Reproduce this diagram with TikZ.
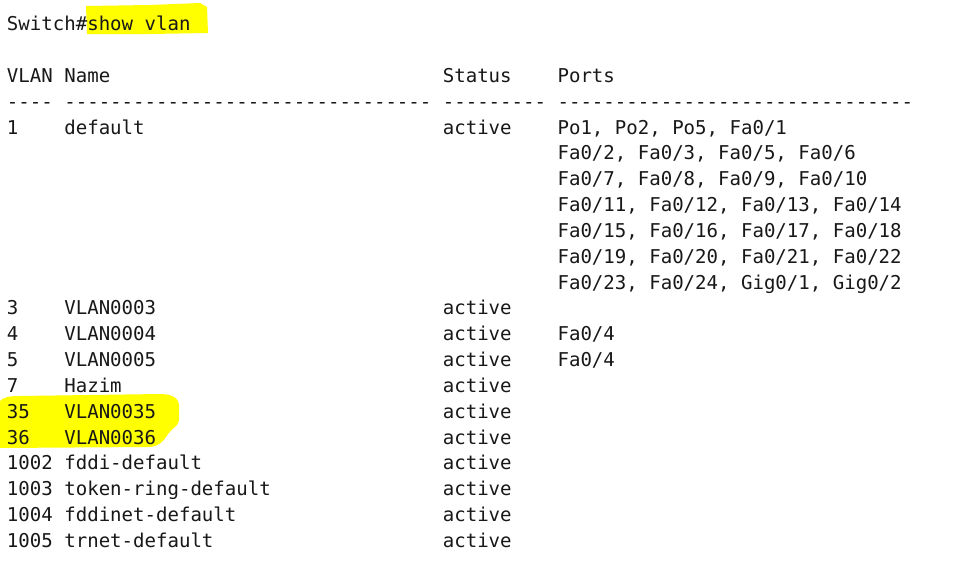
\documentclass[tikz,border=0pt]{standalone}
\usepackage{fontspec}
\setmonofont{DejaVu Sans Mono}
\definecolor{termtext}{RGB}{24,24,24}
\definecolor{hilite}{RGB}{255,255,0}
\begin{document}
\begin{tikzpicture}[x=0.75pt,y=-0.75pt,
  txt/.style={anchor=base west,inner sep=0pt,outer sep=0pt,text=termtext,
    font=\ttfamily\fontsize{14.29}{17}\selectfont}]
\useasboundingbox[fill=white] (0,0) rectangle (975,564);
% highlights
\fill[hilite] (86,6) -- (150,5) -- (200,3) -- (207,7) -- (208,33) -- (150,34) -- (87,34) -- cycle;
\fill[hilite] (0,401) .. controls (3,397) and (10,396) .. (20,396)
  -- (160,394) .. controls (172,394) and (179,398) .. (179,406)
  -- (179,420) .. controls (179,426) and (172,428) .. (168,434)
  .. controls (163,442) and (158,447) .. (148,447)
  -- (0,448) -- cycle;
% columns: x = 7 + col*11.47 ; baselines y = 30.8 + line*25.83
\def\cx#1{\fpeval{7+#1*11.47}}
\def\ly#1{\fpeval{30.8+#1*25.83}}
\node[txt] (cmd) at (\cx{0},\ly{0}) {Switch\#show vlan};
\node[txt] (hvlan) at (\cx{0},\ly{2}) {VLAN};
\node[txt] (hname) at (\cx{5},\ly{2}) {Name};
\node[txt] (hstat) at (\cx{38},\ly{2}) {Status};
\node[txt] (hport) at (\cx{48},\ly{2}) {Ports};
\node[txt] (d1) at (\cx{0},\ly{3}) {----};
\node[txt] (d2) at (\cx{5},\ly{3}) {--------------------------------};
\node[txt] (d3) at (\cx{38},\ly{3}) {---------};
\node[txt] (d4) at (\cx{48},\ly{3}) {-------------------------------};
% vlan 1
\node[txt] (v1) at (\cx{0},\ly{4}) {1};
\node[txt] (n1) at (\cx{5},\ly{4}) {default};
\node[txt] (s1) at (\cx{38},\ly{4}) {active};
\node[txt] (p1) at (\cx{48},\ly{4}) {Po1, Po2, Po5, Fa0/1};
\node[txt] (p2) at (\cx{48},\ly{5}) {Fa0/2, Fa0/3, Fa0/5, Fa0/6};
\node[txt] (p3) at (\cx{48},\ly{6}) {Fa0/7, Fa0/8, Fa0/9, Fa0/10};
\node[txt] (p4) at (\cx{48},\ly{7}) {Fa0/11, Fa0/12, Fa0/13, Fa0/14};
\node[txt] (p5) at (\cx{48},\ly{8}) {Fa0/15, Fa0/16, Fa0/17, Fa0/18};
\node[txt] (p6) at (\cx{48},\ly{9}) {Fa0/19, Fa0/20, Fa0/21, Fa0/22};
\node[txt] (p7) at (\cx{48},\ly{10}) {Fa0/23, Fa0/24, Gig0/1, Gig0/2};
% other vlans
\foreach \ln/\id/\nm in {11/3/VLAN0003,12/4/VLAN0004,13/5/VLAN0005,14/7/Hazim,
  15/35/VLAN0035,16/36/VLAN0036}{
  \node[txt] (v\id) at (\cx{0},\ly{\ln}) {\id};
  \node[txt] (n\id) at (\cx{5},\ly{\ln}) {\nm};
  \node[txt] (s\id) at (\cx{38},\ly{\ln}) {active};
}
\node[txt] (pv4) at (\cx{48},\ly{12}) {Fa0/4};
\node[txt] (pv5) at (\cx{48},\ly{13}) {Fa0/4};
\foreach \ln/\id/\nm in {17/1002/fddi-default,18/1003/token-ring-default,
  19/1004/fddinet-default,20/1005/trnet-default}{
  \node[txt] (v\id) at (\cx{0},\ly{\ln}) {\id\ \nm};
  \node[txt] (s\id) at (\cx{38},\ly{\ln}) {active};
}
\end{tikzpicture}
\end{document}
